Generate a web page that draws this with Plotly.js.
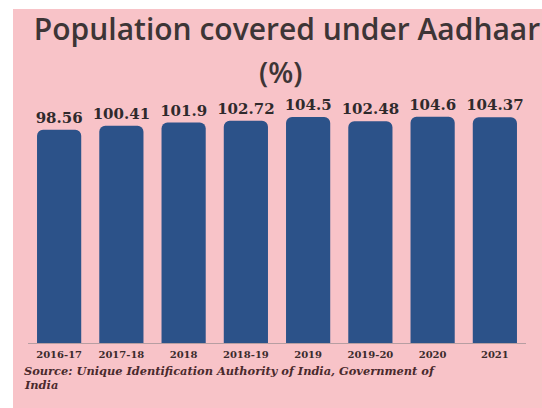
<!DOCTYPE html>
<html>
<head>
<meta charset="utf-8">
<script src="https://cdn.plot.ly/plotly-3.0.1.min.js"></script>
<style>html,body{margin:0;padding:0;background:#fff;}#chart{width:542px;height:408px;}</style>
</head>
<body>
<div id="chart"></div>
<script>
const categories = ["2016-17", "2017-18", "2018", "2018-19", "2019", "2019-20", "2020", "2021"];
const coverage = [98.56, 100.41, 101.9, 102.72, 104.5, 102.48, 104.6, 104.37];
const valueLabels = ["98.56", "100.41", "101.9", "102.72", "104.5", "102.48", "104.6", "104.37"];

const W = 542, H = 408, ml = 28, mr = 16, mt = 105, mb = 65;
const pw = W - ml - mr, ph = H - mt - mb;
const px = x => (x - ml) / pw;
const py = y => (H - mb - y) / ph;

const trace = {
  type: "bar",
  x: categories,
  y: coverage,
  text: valueLabels,
  texttemplate: "%{text}",
  textposition: "outside",
  constraintext: "none",
  cliponaxis: false,
  textfont: {family: "DejaVu Serif", size: 15, color: "#2f2a2c", weight: "bold"},
  marker: {color: "#2c5289", cornerradius: 6},
  hoverinfo: "none"
};

const layout = {
  width: W, height: H,
  margin: {l: ml, r: mr, t: mt, b: mb},
  paper_bgcolor: "#ffffff",
  plot_bgcolor: "rgba(0,0,0,0)",
  bargap: 0.29,
  showlegend: false,
  title: {
    text: "Population covered under Aadhaar",
    font: {family: "Open Sans", size: 30, color: "#3d3536", weight: 600},
    xref: "paper", x: px(287), xanchor: "center",
    yref: "container", y: 1 - 29 / H, yanchor: "middle"
  },
  xaxis: {
    type: "category",
    showline: true, linecolor: "#b79ea2", linewidth: 1,
    ticks: "", showgrid: false, zeroline: false,
    tickfont: {family: "DejaVu Serif", size: 10, color: "#3b2b2d", weight: "bold"},
    ticklabelstandoff: 2
  },
  yaxis: {
    range: [0, 110], visible: false, showgrid: false, zeroline: false
  },
  shapes: [{
    type: "rect", xref: "paper", yref: "paper", layer: "below",
    x0: px(13), x1: px(542), y0: py(408), y1: py(9),
    fillcolor: "#f8c3c8", line: {width: 0}
  }],
  annotations: [
    {
      text: "(%)", showarrow: false, xref: "paper", yref: "paper",
      x: px(280), y: py(71), xanchor: "center", yanchor: "middle",
      font: {family: "Open Sans", size: 29, color: "#3d3536", weight: 600}
    },
    {
      text: "<b><i>Source: Unique Identification Authority of India, Government of</i></b>",
      showarrow: false, xref: "paper", yref: "paper", align: "left",
      x: px(22), y: py(371), xanchor: "left", yanchor: "middle",
      font: {family: "DejaVu Serif", size: 11.4, color: "#4a2a2d"}
    },
    {
      text: "<b><i>India</i></b>",
      showarrow: false, xref: "paper", yref: "paper", align: "left",
      x: px(22), y: py(385), xanchor: "left", yanchor: "middle",
      font: {family: "DejaVu Serif", size: 11.4, color: "#4a2a2d"}
    }
  ]
};

Plotly.newPlot("chart", [trace], layout, {displayModeBar: false, staticPlot: true});
</script>
</body>
</html>
